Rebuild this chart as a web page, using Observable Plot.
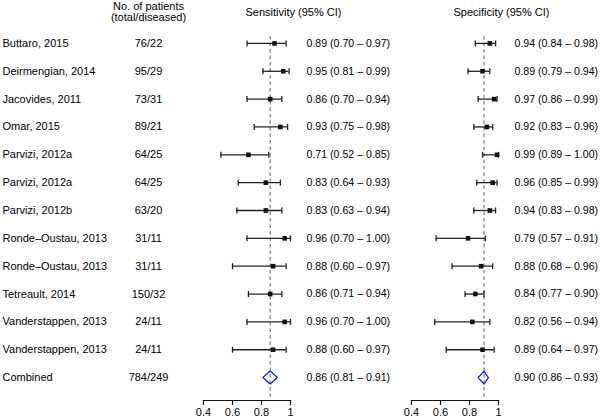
<!DOCTYPE html>
<html>
<head>
<meta charset="utf-8">
<script src="https://cdn.jsdelivr.net/npm/d3@7"></script>
<script src="https://cdn.jsdelivr.net/npm/@observablehq/plot@0.6"></script>
<style>
  html, body { margin: 0; padding: 0; background: #fff; }
  #chart { width: 600px; height: 420px; }
</style>
</head>
<body>
<div id="chart"></div>
<script>
const studies = [
  "Buttaro, 2015", "Deirmengian, 2014", "Jacovides, 2011", "Omar, 2015",
  "Parvizi, 2012a", "Parvizi, 2012a", "Parvizi, 2012b", "Ronde–Oustau, 2013",
  "Ronde–Oustau, 2013", "Tetreault, 2014", "Vanderstappen, 2013", "Vanderstappen, 2013",
  "Combined"
];
const patients = ["76/22", "95/29", "73/31", "89/21", "64/25", "64/25", "63/20", "31/11", "31/11", "150/32", "24/11", "24/11", "784/249"];
const sensEst = [0.89, 0.95, 0.86, 0.93, 0.71, 0.83, 0.83, 0.96, 0.88, 0.86, 0.96, 0.88, 0.86];
const sensLo  = [0.70, 0.81, 0.70, 0.75, 0.52, 0.64, 0.63, 0.70, 0.60, 0.71, 0.70, 0.60, 0.81];
const sensHi  = [0.97, 0.99, 0.94, 0.98, 0.85, 0.93, 0.94, 1.00, 0.97, 0.94, 1.00, 0.97, 0.91];
const specEst = [0.94, 0.89, 0.97, 0.92, 0.99, 0.96, 0.94, 0.79, 0.88, 0.84, 0.82, 0.89, 0.90];
const specLo  = [0.84, 0.79, 0.86, 0.83, 0.89, 0.85, 0.83, 0.57, 0.68, 0.77, 0.56, 0.64, 0.86];
const specHi  = [0.98, 0.94, 0.99, 0.96, 1.00, 0.99, 0.98, 0.91, 0.96, 0.90, 0.94, 0.97, 0.93];
const panels = ["Sensitivity", "Specificity"];
const headers = ["Sensitivity (95% CI)", "Specificity (95% CI)"];
const patientsHeader = "No. of patients\n(total/diseased)";
const xTicks = [0.4, 0.6, 0.8, 1];

const f2 = d3.format(".2f");
const lastIdx = studies.length - 1;
const series = {
  Sensitivity: {est: sensEst, lo: sensLo, hi: sensHi},
  Specificity: {est: specEst, lo: specLo, hi: specHi}
};

const rows = studies.map((name, i) => ({panel: "Sensitivity", row: i + 1, name, n: patients[i]}));
const all = [];
for (const panel of panels) {
  const s = series[panel];
  studies.forEach((name, i) => {
    all.push({panel, row: i + 1, est: s.est[i], lo: s.lo[i], hi: s.hi[i], combined: i === lastIdx,
      label: `${f2(s.est[i])} (${f2(s.lo[i])} – ${f2(s.hi[i])})`});
  });
}
const studyPts = all.filter(d => !d.combined);
const combinedPts = all.filter(d => d.combined);
const dh = 0.234; // diamond half-height in row units (shape style)
const diamond = combinedPts.flatMap(d => [
  {panel: d.panel, x: d.lo, y: d.row},
  {panel: d.panel, x: d.est, y: d.row - dh},
  {panel: d.panel, x: d.hi, y: d.row},
  {panel: d.panel, x: d.est, y: d.row + dh},
  {panel: d.panel, x: d.lo, y: d.row}
]);

const capSymbol = {
  draw(ctx, size) {
    const h = Math.sqrt(size / Math.PI);
    ctx.moveTo(0, -h);
    ctx.lineTo(0, h);
  }
};

const ink = "#111";
const chart = Plot.plot({
  width: 600,
  height: 420,
  marginLeft: 203,
  marginRight: 102,
  marginTop: 29,
  marginBottom: 20,
  style: {fontFamily: "'Liberation Sans', Arial, Helvetica, sans-serif", fontSize: "11px", color: "#000", background: "#fff", overflow: "visible"},
  fx: {domain: panels, paddingInner: 0.582, paddingOuter: 0, axis: null, label: null},
  x: {domain: [0.4, 1], axis: null},
  y: {domain: [studies.length + 0.5, 0.5], axis: null, insetBottom: 9},
  marks: [
    Plot.ruleX(combinedPts, {fx: "panel", x: "est", stroke: "#58587e", strokeWidth: 1, strokeDasharray: "3.5,3", insetTop: 7}),
    Plot.frame({anchor: "bottom", stroke: ink, strokeWidth: 1.2}),
    Plot.axisX({ticks: xTicks, tickFormat: d => d === 1 ? "1" : d3.format(".1f")(d), tickSize: 5, tickPadding: 3, fontSize: 11, stroke: ink, strokeWidth: 1.2, fill: "#000", label: null}),
    Plot.ruleY(studyPts, {fx: "panel", y: "row", x1: "lo", x2: "hi", stroke: "#222", strokeWidth: 1.3}),
    Plot.dot(studyPts, {fx: "panel", x: "lo", y: "row", symbol: capSymbol, r: 3, stroke: "#222", strokeWidth: 1.3, fill: "none"}),
    Plot.dot(studyPts, {fx: "panel", x: "hi", y: "row", symbol: capSymbol, r: 3, stroke: "#222", strokeWidth: 1.3, fill: "none"}),
    Plot.dot(studyPts, {fx: "panel", x: "est", y: "row", symbol: "square", r: 2.6, fill: ink, stroke: null}),
    Plot.line(diamond, {fx: "panel", x: "x", y: "y", z: "panel", stroke: "#1a1aff", strokeWidth: 1.3, fill: "none"}),
    Plot.text(all, {fx: "panel", y: "row", text: "label", frameAnchor: "right", textAnchor: "start", dx: 16, fontSize: 10.6, fill: "#000"}),
    Plot.text(rows, {fx: "panel", y: "row", text: "name", frameAnchor: "left", textAnchor: "start", dx: -201, fontSize: 11, fill: "#000"}),
    Plot.text(rows, {fx: "panel", y: "row", text: "n", frameAnchor: "left", textAnchor: "middle", dx: -55, fontSize: 11, fill: "#000"}),
    Plot.text(panels.map((p, i) => ({panel: p, t: headers[i]})), {fx: "panel", text: "t", frameAnchor: "top-left", textAnchor: "start", lineAnchor: "middle", dx: 42, dy: -17, fontSize: 11, fill: "#000"}),
    Plot.text([{panel: "Sensitivity", t: patientsHeader}], {fx: "panel", text: "t", frameAnchor: "top-left", textAnchor: "middle", lineAnchor: "middle", lineHeight: 1.05, dx: -55, dy: -17.8, fontSize: 11, fill: "#000"})
  ]
});
document.getElementById("chart").appendChild(chart);
</script>
</body>
</html>
